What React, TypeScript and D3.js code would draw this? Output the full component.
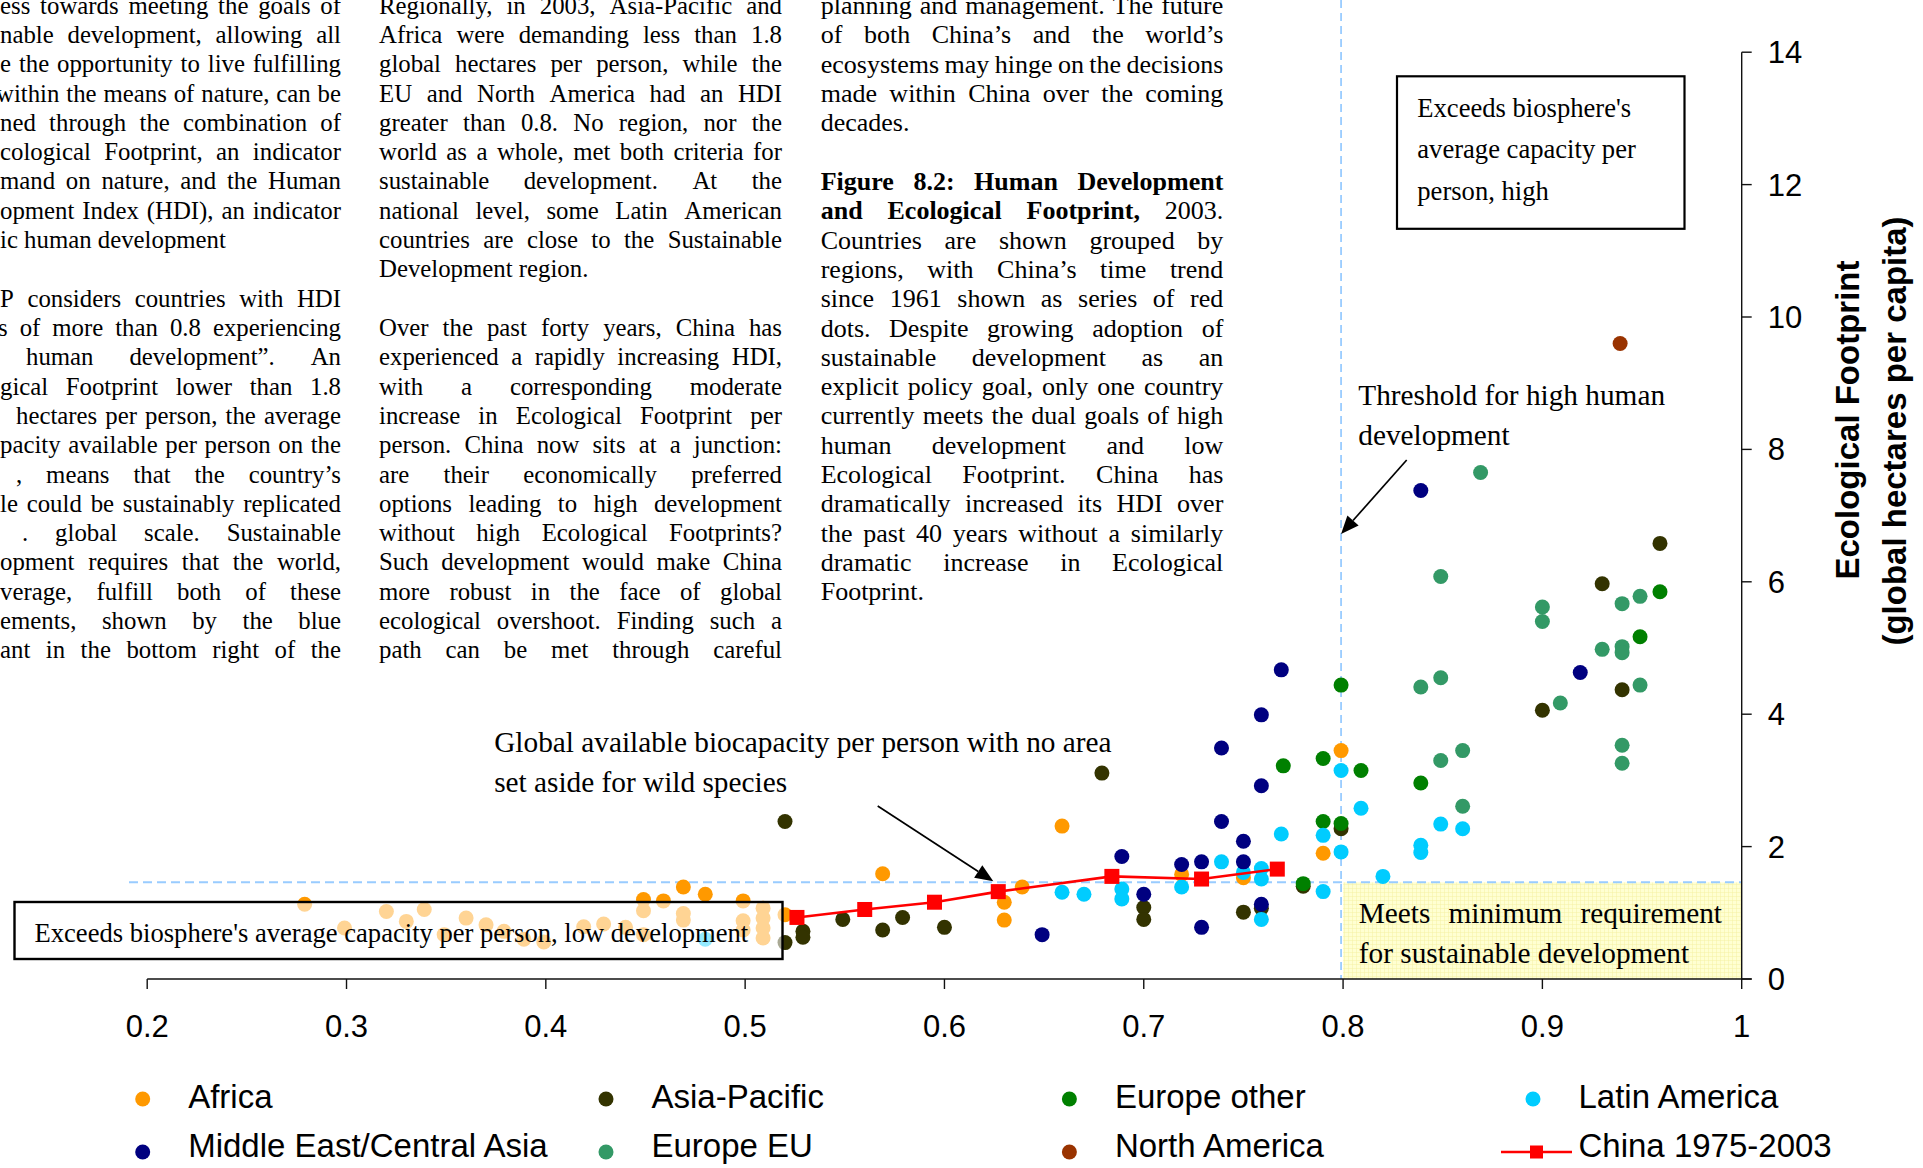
import React, { useLayoutEffect, useRef } from 'react';
import * as d3 from 'd3';

const SERIF = '"Liberation Serif", "Times New Roman", Times, serif';
const SANS = '"Liberation Sans", Arial, Helvetica, sans-serif';

// ---------- data ----------
const REGION_NAMES = ['Africa', 'Asia-Pacific', 'Europe other', 'Latin America', 'Middle East/Central Asia', 'Europe EU', 'North America'];
const REGION_COLORS = ['#FF9900', '#333300', '#008000', '#00CCFF', '#000080', '#339966', '#993300'];
const CHINA_LABEL = 'China 1975-2003';
const CHINA_COLOR = '#FF0000';

// [HDI, Ecological Footprint]
const africa: [number, number][] = [
  [0.279, 1.13], [0.299, 0.77], [0.320, 1.02], [0.330, 0.87], [0.339, 1.05], [0.349, 0.67], [0.360, 0.92],
  [0.370, 0.82], [0.379, 0.72], [0.389, 0.60], [0.399, 0.56], [0.419, 0.79], [0.429, 0.83], [0.440, 0.78],
  [0.449, 1.20], [0.449, 1.03], [0.449, 0.67], [0.459, 1.18], [0.469, 1.39], [0.469, 0.99], [0.469, 0.89],
  [0.480, 1.28], [0.499, 1.18], [0.499, 0.88], [0.499, 0.74], [0.509, 1.07], [0.509, 0.92], [0.509, 0.77],
  [0.509, 0.62], [0.520, 0.97], [0.569, 1.59], [0.630, 1.16], [0.630, 0.89], [0.639, 1.39], [0.659, 2.31],
  [0.719, 1.58], [0.750, 1.53], [0.790, 1.90], [0.799, 3.45],
];
const asiaPacific: [number, number][] = [
  [0.520, 2.38], [0.520, 0.55], [0.529, 0.72], [0.529, 0.63], [0.549, 0.90], [0.569, 0.74], [0.579, 0.93],
  [0.600, 0.78], [0.679, 3.11], [0.700, 1.08], [0.700, 0.90], [0.750, 1.01], [0.759, 1.07], [0.780, 1.40],
  [0.799, 2.27], [0.900, 4.06], [0.930, 5.97], [0.940, 4.37], [0.959, 6.58],
];
const europeOther: [number, number][] = [
  [0.770, 3.22], [0.780, 1.44], [0.790, 3.33], [0.790, 2.38], [0.799, 4.44], [0.799, 2.35], [0.809, 3.15],
  [0.839, 2.96], [0.949, 5.17], [0.959, 5.85],
];
const latinAmerica: [number, number][] = [
  [0.480, 0.60], [0.659, 1.31], [0.670, 1.28], [0.689, 1.36], [0.689, 1.21], [0.719, 1.39], [0.739, 1.77],
  [0.750, 1.61], [0.759, 1.67], [0.759, 1.51], [0.759, 0.90], [0.769, 2.19], [0.790, 2.17], [0.790, 1.32],
  [0.799, 3.15], [0.799, 1.92], [0.809, 2.58], [0.820, 1.55], [0.839, 2.02], [0.839, 1.91], [0.849, 2.34],
  [0.860, 2.27],
];
const middleEast: [number, number][] = [
  [0.649, 0.67], [0.689, 1.85], [0.700, 1.28], [0.719, 1.73], [0.729, 1.77], [0.729, 0.78], [0.739, 3.49],
  [0.739, 2.38], [0.750, 2.08], [0.750, 1.77], [0.759, 3.99], [0.759, 2.92], [0.759, 1.13], [0.769, 4.67],
  [0.839, 7.38], [0.919, 4.63],
];
const europeEU: [number, number][] = [
  [0.839, 4.41], [0.849, 6.08], [0.849, 4.55], [0.849, 3.30], [0.860, 3.45], [0.860, 2.61], [0.869, 7.65],
  [0.900, 5.62], [0.900, 5.40], [0.909, 4.17], [0.930, 4.98], [0.940, 5.67], [0.940, 5.02], [0.940, 4.93],
  [0.940, 3.53], [0.940, 3.26], [0.949, 5.78], [0.949, 4.44],
];
const northAmerica: [number, number][] = [[0.939, 9.60]];
const chinaTrend: [number, number][] = [
  [0.526, 0.93], [0.560, 1.05], [0.595, 1.16], [0.627, 1.32], [0.684, 1.55], [0.729, 1.51], [0.767, 1.66],
];
const REGION_DATA = [africa, asiaPacific, europeOther, latinAmerica, middleEast, europeEU, northAmerica];

const X_TICKS = [0.2, 0.3, 0.4, 0.5, 0.6, 0.7, 0.8, 0.9, 1.0];
const X_TICK_LABELS = ['0.2', '0.3', '0.4', '0.5', '0.6', '0.7', '0.8', '0.9', '1'];
const Y_TICKS = [0, 2, 4, 6, 8, 10, 12, 14];
const Y_TICK_LABELS = ['0', '2', '4', '6', '8', '10', '12', '14'];
const HDI_THRESHOLD = 0.8;
const BIOCAPACITY_LINE = 1.46;

// ---------- page text ----------
// [line index, text, start x, justified]
const COL1: [number, string, number, number][] = [
  [0, 'ess towards meeting the goals of', 0, 1],
  [1, 'nable development, allowing all', 0, 1],
  [2, 'e the opportunity to live fulfilling', 0, 1],
  [3, 'within the means of nature, can be', -4, 1],
  [4, 'ned through the combination of', 0, 1],
  [5, 'cological Footprint, an indicator', 0, 1],
  [6, 'mand on nature, and the Human', 0, 1],
  [7, 'opment Index (HDI), an indicator', 0, 1],
  [8, 'ic human development', 0, 0],
  [10, 'P considers countries with HDI', 0, 1],
  [11, 's of more than 0.8 experiencing', -2, 1],
  [12, 'human development”. An', 26, 1],
  [13, 'gical Footprint lower than 1.8', 0, 1],
  [14, 'hectares per person, the average', 16, 1],
  [15, 'pacity available per person on the', 0, 1],
  [16, ', means that the country’s', 16, 1],
  [17, 'le could be sustainably replicated', 0, 1],
  [18, '. global scale. Sustainable', 22, 1],
  [19, 'opment requires that the world,', 0, 1],
  [20, 'verage, fulfill both of these', 0, 1],
  [21, 'ements, shown by the blue', 0, 1],
  [22, 'ant in the bottom right of the', 0, 1],
];
// [line index, text, justified]
const COL2: [number, string, number][] = [
  [0, 'Regionally, in 2003, Asia-Pacific and', 1],
  [1, 'Africa were demanding less than 1.8', 1],
  [2, 'global hectares per person, while the', 1],
  [3, 'EU and North America had an HDI', 1],
  [4, 'greater than 0.8. No region, nor the', 1],
  [5, 'world as a whole, met both criteria for', 1],
  [6, 'sustainable development. At the', 1],
  [7, 'national level, some Latin American', 1],
  [8, 'countries are close to the Sustainable', 1],
  [9, 'Development region.', 0],
  [11, 'Over the past forty years, China has', 1],
  [12, 'experienced a rapidly increasing HDI,', 1],
  [13, 'with a corresponding moderate', 1],
  [14, 'increase in Ecological Footprint per', 1],
  [15, 'person. China now sits at a junction:', 1],
  [16, 'are their economically preferred', 1],
  [17, 'options leading to high development', 1],
  [18, 'without high Ecological Footprints?', 1],
  [19, 'Such development would make China', 1],
  [20, 'more robust in the face of global', 1],
  [21, 'ecological overshoot. Finding such a', 1],
  [22, 'path can be met through careful', 1],
];
// [line index, text, justified, number of leading bold words]
const COL3: [number, string, number, number][] = [
  [0, 'planning and management. The future', 1, 0],
  [1, 'of both China’s and the world’s', 1, 0],
  [2, 'ecosystems may hinge on the decisions', 1, 0],
  [3, 'made within China over the coming', 1, 0],
  [4, 'decades.', 0, 0],
  [6, 'Figure 8.2: Human Development', 1, 4],
  [7, 'and Ecological Footprint, 2003.', 1, 3],
  [8, 'Countries are shown grouped by', 1, 0],
  [9, 'regions, with China’s time trend', 1, 0],
  [10, 'since 1961 shown as series of red', 1, 0],
  [11, 'dots. Despite growing adoption of', 1, 0],
  [12, 'sustainable development as an', 1, 0],
  [13, 'explicit policy goal, only one country', 1, 0],
  [14, 'currently meets the dual goals of high', 1, 0],
  [15, 'human development and low', 1, 0],
  [16, 'Ecological Footprint. China has', 1, 0],
  [17, 'dramatically increased its HDI over', 1, 0],
  [18, 'the past 40 years without a similarly', 1, 0],
  [19, 'dramatic increase in Ecological', 1, 0],
  [20, 'Footprint.', 0, 0],
];

const NOTE_HIGH = ['Exceeds biosphere\'s', 'average capacity per', 'person, high'];
const NOTE_LOW = 'Exceeds biosphere\'s average capacity per person, low development';
const NOTE_THRESHOLD = ['Threshold for high human', 'development'];
const NOTE_BIOCAP = ['Global available biocapacity per person with no area', 'set aside for wild species'];
const NOTE_SUSTAIN = ['Meets minimum requirement', 'for sustainable development'];
const Y_TITLE = ['Ecological Footprint', '(global hectares per capita)'];

// ---------- helpers ----------
const lineY = (k: number) => 13.6 + 29.31 * k;

function JLine({ x0, x1, y, fs, text, justify, bold = 0, weight }: {
  x0: number; x1: number; y: number; fs: number; text: string; justify: boolean; bold?: number; weight?: string;
}) {
  const words = text.split(' ').filter((w) => w.length);
  return (
    <text data-j={justify ? '1' : '0'} data-x0={x0} data-x1={x1} data-fs={fs} y={y}
      fontSize={fs} fontFamily={SERIF} fill="#000" fontWeight={weight}>
      {words.map((w, i) => (
        <tspan key={i} x={x0} fontWeight={i < bold ? 'bold' : undefined}>{w}</tspan>
      ))}
    </text>
  );
}

function Arrow({ x1, y1, x2, y2 }: { x1: number; y1: number; x2: number; y2: number }) {
  const a = Math.atan2(y2 - y1, x2 - x1);
  const L = 18, hw = 7.5;
  const bx = x2 - L * Math.cos(a), by = y2 - L * Math.sin(a);
  const p1 = [bx + hw * Math.sin(a), by - hw * Math.cos(a)];
  const p2 = [bx - hw * Math.sin(a), by + hw * Math.cos(a)];
  return (
    <g>
      <line x1={x1} y1={y1} x2={bx} y2={by} stroke="#000" strokeWidth={1.7} />
      <path d={`M${x2},${y2}L${p1[0]},${p1[1]}L${p2[0]},${p2[1]}Z`} fill="#000" />
    </g>
  );
}

export default function App() {
  const ref = useRef<SVGSVGElement>(null);

  useLayoutEffect(() => {
    const root = ref.current;
    if (!root) return;
    root.querySelectorAll('text[data-j]').forEach((el) => {
      const x0 = +(el.getAttribute('data-x0') || 0);
      const x1 = +(el.getAttribute('data-x1') || 0);
      const fs = +(el.getAttribute('data-fs') || 16);
      const justify = el.getAttribute('data-j') === '1';
      const spans = Array.from(el.querySelectorAll('tspan')) as SVGTSpanElement[];
      const ws = spans.map((s) => s.getComputedTextLength());
      const sum = ws.reduce((a, b) => a + b, 0);
      const n = spans.length;
      let gap = fs * 0.25;
      if (justify && n > 1) gap = (x1 - x0 - sum) / (n - 1);
      let k = 1;
      const minGap = fs * 0.18;
      if (justify && gap < minGap) {
        gap = minGap;
        k = (x1 - x0) / (sum + gap * (n - 1));
      }
      let cx = x0;
      spans.forEach((s, i) => {
        s.setAttribute('x', String(cx));
        cx += ws[i] + gap;
      });
      if (k !== 1) el.setAttribute('transform', `translate(${x0},0) scale(${k},1) translate(${-x0},0)`);
    });
  }, []);

  const x = d3.scaleLinear().domain([0.2, 1.0]).range([147.2, 1741.7]);
  const y = d3.scaleLinear().domain([0, 14]).range([979, 52.2]);
  const chinaLine = d3.line<[number, number]>().x((d) => x(d[0])).y((d) => y(d[1]));
  const R = 7.5;

  const legendItems = [...REGION_NAMES.map((n, i) => ({ name: n, color: REGION_COLORS[i], china: false })),
    { name: CHINA_LABEL, color: CHINA_COLOR, china: true }];
  const LEG_X = [142.7, 606, 1069.4, 1533];
  const LEG_BASE = [1107.5, 1157];
  const LEG_DOT = [1099, 1152];

  const axisColor = '#111';

  return (
    <>
      <style>{'html,body{margin:0;padding:0;overflow:hidden;background:#fff}'}</style>
      <svg ref={ref} width={1923} height={1168} viewBox="0 0 1923 1168"
        style={{ position: 'absolute', left: 0, top: 0, display: 'block', background: '#fff' }}>
        <defs>
          <pattern id="yellowGrid" width={4} height={4} patternUnits="userSpaceOnUse">
            <rect width={4} height={4} fill="#FFFFD2" />
            <path d="M0,0H4M0,0V4" stroke="#F4F0A0" strokeWidth={0.9} />
          </pattern>
        </defs>

        {/* page text columns */}
        <g>
          {COL1.map(([k, t, sx, j]) => (
            <JLine key={'c1' + k} x0={sx} x1={341} y={lineY(k)} fs={24.8} text={t} justify={!!j} />
          ))}
          {COL2.map(([k, t, j]) => (
            <JLine key={'c2' + k} x0={379} x1={782} y={lineY(k)} fs={24.8} text={t} justify={!!j} />
          ))}
          {COL3.map(([k, t, j, b]) => (
            <JLine key={'c3' + k} x0={820.7} x1={1223.3} y={lineY(k) + 0.5} fs={26} text={t} justify={!!j} bold={b} />
          ))}
        </g>

        {/* sustainable development zone */}
        <rect x={x(HDI_THRESHOLD)} y={y(BIOCAPACITY_LINE)} width={x(1) - x(HDI_THRESHOLD)}
          height={y(0) - y(BIOCAPACITY_LINE)} fill="url(#yellowGrid)" />

        {/* threshold lines */}
        <line x1={129} x2={x(1)} y1={y(BIOCAPACITY_LINE)} y2={y(BIOCAPACITY_LINE)}
          stroke="#99CCFF" strokeWidth={2} strokeDasharray="9 5" />
        <line x1={x(HDI_THRESHOLD) - 2} x2={x(HDI_THRESHOLD) - 2} y1={0} y2={y(0)}
          stroke="#99CCFF" strokeWidth={1.8} strokeDasharray="8 5" />

        {/* axes */}
        <g>
          <line x1={x(0.2)} x2={x(1) + 10} y1={y(0)} y2={y(0)} stroke={axisColor} strokeWidth={1.4} />
          {X_TICKS.map((t, i) => (
            <g key={'xt' + i}>
              <line x1={x(t)} x2={x(t)} y1={y(0)} y2={y(0) + 10} stroke={axisColor} strokeWidth={1.4} />
              <text x={x(t)} y={1037} textAnchor="middle" fontFamily={SANS} fontSize={31} fill="#000">{X_TICK_LABELS[i]}</text>
            </g>
          ))}
          <line x1={x(1)} x2={x(1)} y1={y(0)} y2={y(14)} stroke={axisColor} strokeWidth={1.4} />
          {Y_TICKS.map((t, i) => (
            <g key={'yt' + i}>
              <line x1={x(1)} x2={x(1) + 10} y1={y(t)} y2={y(t)} stroke={axisColor} strokeWidth={1.4} />
              <text x={1767.7} y={y(t) + 11} fontFamily={SANS} fontSize={31} fill="#000">{Y_TICK_LABELS[i]}</text>
            </g>
          ))}
          <text transform="translate(1859,420) rotate(-90)" textAnchor="middle" fontFamily={SANS}
            fontWeight="bold" fontSize={33} fill="#000">{Y_TITLE[0]}</text>
          <text transform="translate(1905.5,431) rotate(-90)" textAnchor="middle" fontFamily={SANS}
            fontWeight="bold" fontSize={33} fill="#000">{Y_TITLE[1]}</text>
        </g>

        {/* country dots */}
        {REGION_DATA.map((series, si) => (
          <g key={'s' + si} fill={REGION_COLORS[si]}>
            {series.map((d, i) => (
              <circle key={i} cx={x(d[0])} cy={y(d[1])} r={R} />
            ))}
          </g>
        ))}

        {/* China trend */}
        <path d={chinaLine(chinaTrend) || ''} fill="none" stroke={CHINA_COLOR} strokeWidth={2.6} />
        {chinaTrend.map((d, i) => (
          <rect key={'ch' + i} x={x(d[0]) - 7.5} y={y(d[1]) - 7.5} width={15} height={15} fill={CHINA_COLOR} />
        ))}

        {/* annotation: low development box */}
        <rect x={14.5} y={902} width={768} height={57} fill="#fff" fillOpacity={0.58} stroke="#000" strokeWidth={2.4} />
        <text x={34.5} y={942} fontFamily={SERIF} fontSize={26.6} fill="#000">{NOTE_LOW}</text>

        {/* annotation: high box */}
        <rect x={1397} y={76.3} width={287.5} height={152.5} fill="#fff" stroke="#000" strokeWidth={2.2} />
        {NOTE_HIGH.map((t, i) => (
          <text key={'nh' + i} x={1417.3} y={116.6 + 41.5 * i} fontFamily={SERIF} fontSize={26.6} fill="#000">{t}</text>
        ))}

        {/* annotation: threshold */}
        {NOTE_THRESHOLD.map((t, i) => (
          <text key={'nt' + i} x={1358.3} y={405 + 40 * i} fontFamily={SERIF} fontSize={29.3} fill="#000">{t}</text>
        ))}
        <Arrow x1={1406.7} y1={460} x2={x(HDI_THRESHOLD) - 2} y2={534} />

        {/* annotation: biocapacity */}
        {NOTE_BIOCAP.map((t, i) => (
          <text key={'nb' + i} x={494.2} y={751.7 + 40 * i} fontFamily={SERIF} fontSize={29.3} fill="#000">{t}</text>
        ))}
        <Arrow x1={877.7} y1={806} x2={993.3} y2={y(BIOCAPACITY_LINE) - 1} />

        {/* annotation: sustainable zone */}
        <JLine x0={1358.8} x1={1722} y={923.3} fs={29.3} text={NOTE_SUSTAIN[0]} justify={true} />
        <JLine x0={1358.8} x1={1722} y={963.3} fs={29.3} text={NOTE_SUSTAIN[1]} justify={false} />

        {/* legend */}
        {legendItems.map((it, i) => {
          const col = i % 4, row = Math.floor(i / 4);
          const cx = LEG_X[col];
          return (
            <g key={'lg' + i}>
              {it.china ? (
                <g>
                  <line x1={cx - 32} x2={cx + 39} y1={LEG_DOT[row]} y2={LEG_DOT[row]} stroke={it.color} strokeWidth={2.6} />
                  <rect x={cx + 3.5 - 6.5} y={LEG_DOT[row] - 6.5} width={13} height={13} fill={it.color} />
                </g>
              ) : (
                <circle cx={cx} cy={LEG_DOT[row]} r={R} fill={it.color} />
              )}
              <text x={cx + 45.5} y={LEG_BASE[row]} fontFamily={SANS} fontSize={33} fill="#000">{it.name}</text>
            </g>
          );
        })}
      </svg>
    </>
  );
}
